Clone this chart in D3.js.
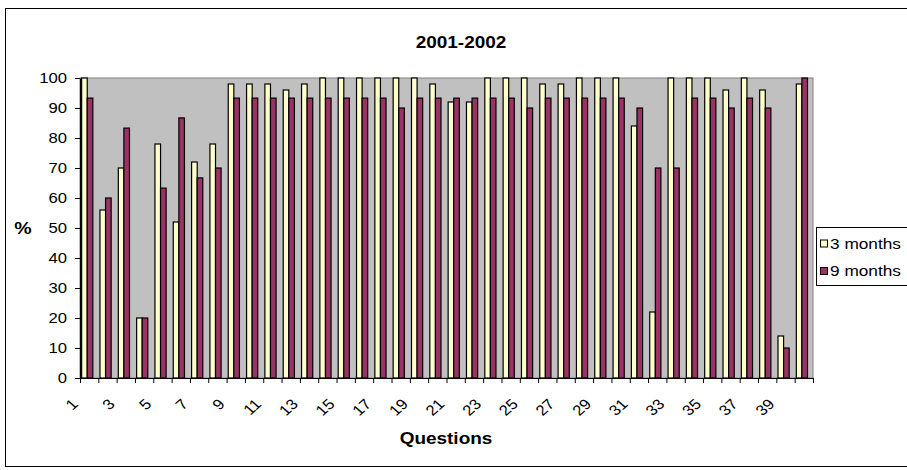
<!DOCTYPE html>
<html>
<head>
<meta charset="utf-8">
<script src="https://cdn.jsdelivr.net/npm/d3@7"></script>
<style>
    body { margin: 0; background: #fff; }
    text { font-family: "Liberation Sans", Arial, sans-serif; fill: #000; }
</style>
</head>
<body>
<div id="chart_div"></div>
<script>

// chart data
var questions = d3.range(1, 41);
var seriesNames = ["3 months", "9 months"];
var colors = ["#FFFFCC", "#993366"];
var threeMonths = [100, 56, 70, 20, 78, 52, 72, 78, 98, 98,
                   98, 96, 98, 100, 100, 100, 100, 100, 100, 98,
                   92, 92, 100, 100, 100, 98, 98, 100, 100, 100,
                   84, 22, 100, 100, 100, 96, 100, 96, 14, 98];
var nineMonths = [93.3, 60, 83.3, 20, 63.3, 86.7, 66.7, 70, 93.3, 93.3,
                  93.3, 93.3, 93.3, 93.3, 93.3, 93.3, 93.3, 90, 93.3, 93.3,
                  93.3, 93.3, 93.3, 93.3, 90, 93.3, 93.3, 93.3, 93.3, 93.3,
                  90, 70, 70, 93.3, 93.3, 90, 93.3, 90, 10, 100];
var yTicks = d3.range(0, 101, 10);

var stretch = 1.15;

var svg = d3.select("#chart_div").append("svg")
    .attr("width", 907)
    .attr("height", 470);

// outer chart border
svg.append("rect")
    .attr("x", 5.5).attr("y", 8.5)
    .attr("width", 905).attr("height", 458)
    .attr("fill", "#fff")
    .attr("stroke", "#000");

var plotLeft = 80, plotRight = 813, plotTop = 78, plotBottom = 378;

var x = d3.scaleBand()
    .domain(questions)
    .range([plotLeft, plotRight]);

var xBars = d3.scaleBand()
    .domain([0, 1])
    .range([x.bandwidth() * 0.09, x.bandwidth() * 0.7]);

var xLin = d3.scaleLinear()
    .domain([0, questions.length])
    .range([plotLeft, plotRight]);

var y = d3.scaleLinear()
    .domain([0, 100])
    .range([plotBottom, plotTop]);

function stext(parent, px, py, str, opts) {
    opts = opts || {};
    var tr = "translate(" + px + "," + py + ") scale(" + stretch + ",1)";
    if (opts.rotate) tr += " rotate(" + opts.rotate + ")";
    return parent.append("text")
        .attr("transform", tr)
        .attr("text-anchor", opts.anchor || "middle")
        .attr("font-size", (opts.size || 14.5) + "px")
        .attr("font-weight", opts.bold ? "bold" : "normal")
        .attr("dy", opts.dy || 0)
        .text(str);
}

// plot area
svg.append("rect")
    .attr("x", plotLeft).attr("y", plotTop)
    .attr("width", plotRight - plotLeft).attr("height", plotBottom - plotTop)
    .attr("fill", "#C0C0C0")
    .attr("stroke", "#808080");

// bars
var rows = questions.map(function (q, i) {
    return {q: q, vals: [threeMonths[i], nineMonths[i]]};
});

var cat = svg.selectAll(".cat")
    .data(rows)
    .enter().append("g")
    .attr("class", "cat")
    .attr("transform", function (d) {
        return "translate(" + x(d.q) + ",0)";
    });

cat.selectAll("rect")
    .data(function (d) { return d.vals; })
    .enter().append("rect")
    .attr("x", function (d, i) { return xBars(i); })
    .attr("y", function (d) { return y(d); })
    .attr("width", xBars.bandwidth())
    .attr("height", function (d) { return y(0) - y(d); })
    .attr("fill", function (d, i) { return colors[i]; })
    .attr("stroke", "#000")
    .attr("stroke-width", 1.2);

// x axis: ticks between categories
var xAxis = svg.append("g")
    .attr("transform", "translate(0," + plotBottom + ")")
    .call(d3.axisBottom(xLin)
        .tickValues(d3.range(0, questions.length + 1))
        .tickFormat("")
        .tickSize(5)
        .tickSizeOuter(0));
xAxis.select(".domain").attr("stroke", "#000");

questions.filter(function (q) { return q % 2 === 1; }).forEach(function (q) {
    stext(svg, x(q) + x.bandwidth() / 2 - 10, plotBottom + 27, q, {anchor: "end", rotate: -45});
});

// y axis
var yAxis = svg.append("g")
    .attr("transform", "translate(" + plotLeft + ",0)")
    .call(d3.axisLeft(y)
        .tickValues(yTicks)
        .tickFormat("")
        .tickSize(5)
        .tickSizeOuter(0));
yAxis.select(".domain").attr("stroke", "#000");

yTicks.forEach(function (t) {
    stext(svg, 67, y(t), t, {anchor: "end", dy: "0.35em"});
});

// titles
stext(svg, 461, 48, "2001-2002", {size: 16.5, bold: true});
stext(svg, 446, 444, "Questions", {size: 16.5, bold: true});
stext(svg, 23, 234, "%", {size: 17, bold: true});

// legend
var legend = svg.append("g");
legend.append("rect")
    .attr("x", 816.5).attr("y", 227.5)
    .attr("width", 100).attr("height", 58)
    .attr("fill", "#fff")
    .attr("stroke", "#000");

seriesNames.forEach(function (name, i) {
    var ly = 243.5 + i * 27.5;
    legend.append("rect")
        .attr("x", 820.5).attr("y", ly - 3.5)
        .attr("width", 7).attr("height", 7)
        .attr("fill", colors[i])
        .attr("stroke", "#000");
    stext(legend, 830, ly, name, {anchor: "start", size: 15, dy: "0.35em"});
});

</script>
</body>
</html>
